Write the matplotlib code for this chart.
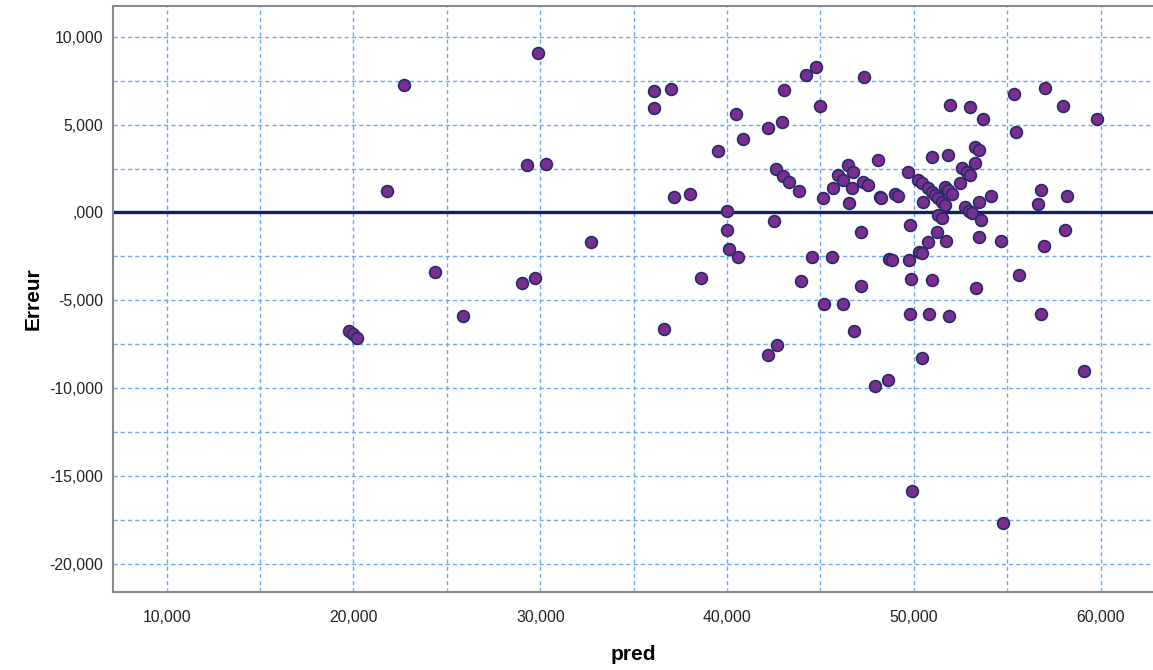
import matplotlib
matplotlib.use("Agg")
import matplotlib.pyplot as plt
from matplotlib.ticker import FixedLocator, MultipleLocator

plt.rcParams['font.family'] = ['Liberation Sans', 'DejaVu Sans']

# Predicted values (x) and residuals (y)
pred = [
    22700, 21780, 24360, 25880, 19750, 19980, 20210, 29900, 29300, 30290,
    36100, 37000, 36100, 37160, 38010, 32700, 29000, 29730, 36640, 38600,
    39530, 40460, 40830, 42200, 42920, 43050, 44210, 44760, 44970, 47310,
    48090, 42630, 42980, 43310, 43830, 39980, 42530, 45150, 45690, 45960,
    46220, 46490, 46760, 46670, 46540, 47290, 47560, 48190, 48250, 48990,
    49170, 49700, 39980, 47170, 49790, 40090, 40600, 43940, 44560, 45600,
    48690, 48810, 49750, 50290, 50410, 49830, 47160, 45170, 46190, 49790,
    50820, 46810, 42660, 42190, 50420, 48600, 47920, 50950, 50770, 49890,
    54750, 50240, 50420, 50770, 50990, 51130, 51310, 51490, 50510, 51670,
    51850, 52030, 50990, 51840, 52470, 52560, 52830, 53000, 53270, 53270,
    53480, 51310, 51490, 51670, 52740, 52950, 53130, 53480, 54130, 53590,
    51220, 51700, 53470, 54680, 51930, 53000, 53700, 55340, 55470, 57020,
    58000, 59800, 56820, 56630, 58180, 58080, 56980, 53310, 55630, 51890,
    56820, 59120,
]
erreur = [
    7280, 1210, -3360, -5890, -6730, -6940, -7170, 9090, 2690, 2750,
    6925, 7000, 5920, 870, 1025, -1670, -3990, -3740, -6650, -3710,
    3510, 5580, 4160, 4800, 5130, 6980, 7800, 8260, 6040, 7700,
    2980, 2450, 2090, 1730, 1200, 75, -480, 800, 1370, 2120,
    1840, 2690, 2310, 1370, 550, 1740, 1550, 890, 820, 1080,
    950, 2310, -970, -1120, -720, -2050, -2560, -3910, -2560, -2560,
    -2620, -2730, -2720, -2240, -2330, -3760, -4160, -5180, -5180, -5750,
    -5750, -6760, -7570, -8130, -8310, -9510, -9850, -3870, -1670, -15830,
    -17650, 1840, 1650, 1370, 1170, 990, 800, 600, 600, 1460,
    1270, 1080, 3170, 3260, 1650, 2510, 2310, 2120, 2790, 3740,
    3550, -150, -340, 420, 320, 90, -20, 600, 930, -440,
    -1100, -1630, -1420, -1630, 6090, 6010, 5310, 6720, 4560, 7060,
    6050, 5300, 1270, 470, 930, -1010, -1920, -4270, -3570, -5870,
    -5750, -9020,
]

xtick_values = [10000, 20000, 30000, 40000, 50000, 60000]
xtick_labels = ["10,000", "20,000", "30,000", "40,000", "50,000", "60,000"]
ytick_values = [-20000, -15000, -10000, -5000, 0, 5000, 10000]
ytick_labels = ["-20,000", "-15,000", "-10,000", "-5,000", ",000", "5,000", "10,000"]
reference_y = 0

fig = plt.figure(figsize=(11.53, 6.70), dpi=100)
ax = fig.add_axes([0.098, 0.1164, 0.902, 0.8746])

grid_kw = dict(color='#6ea8ee', linewidth=1.0, linestyle=(0, (3.0, 2.2)))
ax.set_xlim(7125, 62800)
ax.set_ylim(-21600, 11750)

ax.xaxis.set_major_locator(FixedLocator(xtick_values))
ax.set_xticklabels(xtick_labels)
ax.xaxis.set_minor_locator(MultipleLocator(5000))
ax.yaxis.set_major_locator(FixedLocator(ytick_values))
ax.set_yticklabels(ytick_labels)
ax.yaxis.set_minor_locator(MultipleLocator(2500))
ax.grid(True, which='both', **grid_kw)
ax.set_axisbelow(True)

ax.axhline(reference_y, color='#122068', linewidth=2.4, zorder=2)
ax.scatter(pred, erreur, s=72, facecolor='#7a2e8e', edgecolor='#262a6c',
           linewidth=1.2, zorder=3)

ax.tick_params(axis='both', which='both', length=0, labelsize=11.3,
               labelcolor='#222222')
ax.tick_params(axis='x', pad=13)
ax.tick_params(axis='y', pad=7)

for side in ['left', 'bottom', 'top']:
    ax.spines[side].set_color('#8a8a8a')
    ax.spines[side].set_linewidth(1.5)
ax.spines['right'].set_visible(False)

ax.set_xlabel('pred', fontsize=15, fontweight='bold', labelpad=14)
ax.set_ylabel('Erreur', fontsize=15, fontweight='bold', labelpad=5)

fig.savefig('out.png', dpi=100)
